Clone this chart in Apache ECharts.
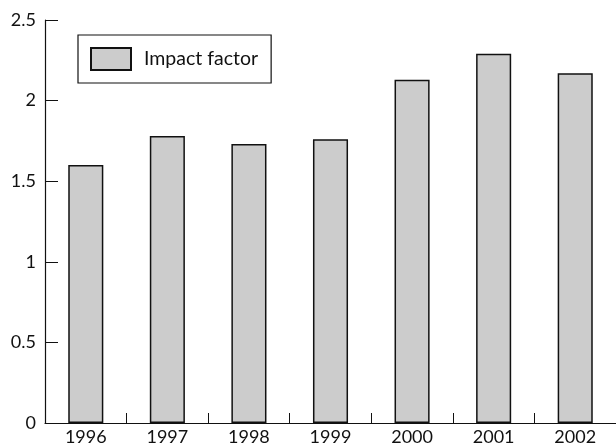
<!DOCTYPE html>
<html><head><meta charset="utf-8">
<script src="https://cdn.jsdelivr.net/npm/echarts@6/dist/echarts.min.js"></script>
<style>html,body{margin:0;padding:0;background:#fff}#c{width:616px;height:446px}</style>
</head><body><div id="c"></div>
<script>
const categories = ['1996','1997','1998','1999','2000','2001','2002'];
const impactFactor = [1.60, 1.78, 1.73, 1.76, 2.13, 2.29, 2.17];
const yTicks = [0, 0.5, 1, 1.5, 2, 2.5];
const seriesName = 'Impact factor';

const chart = echarts.init(document.getElementById('c'), null, {renderer:'canvas'});
const font = 'Lato, "DejaVu Sans", sans-serif';
chart.setOption({
  animation: false,
  backgroundColor: '#fff',
  grid: {left: 45, top: 20, right: -2, bottom: 23, containLabel: false},
  legend: {
    data: [{name: seriesName, icon: 'rect'}], left: 78, top: 35,
    orient: 'horizontal',
    padding: [12, 13, 12, 12],
    borderColor: '#111', borderWidth: 1.2,
    itemWidth: 40, itemHeight: 22,
    textStyle: {fontFamily: font, fontSize: 19.5, color: '#111', padding: [0,0,0,8]}
  },
  xAxis: {
    type: 'category', data: categories, boundaryGap: true,
    axisLine: {lineStyle: {color: '#111', width: 1.2}},
    axisTick: {show: true, inside: true, length: 10, lineStyle: {color: '#111', width: 1}},
    axisLabel: {fontFamily: font, fontSize: 18, color: '#111', margin: 5}
  },
  yAxis: {
    type: 'value', min: 0, max: 2.5, interval: 0.5,
    axisLine: {show: true, lineStyle: {color: '#111', width: 1.2}},
    axisTick: {show: true, inside: true, length: 13, lineStyle: {color: '#111', width: 1}},
    splitLine: {show: false},
    axisLabel: {fontFamily: font, fontSize: 18, color: '#111', margin: 9,
      formatter: v => yTicks.includes(v) ? String(v) : ''}
  },
  series: [{
    name: seriesName, type: 'bar', data: impactFactor,
    barWidth: '43%',
    itemStyle: {color: '#cccccc', borderColor: '#111', borderWidth: 1.5}
  }]
});
</script></body></html>
